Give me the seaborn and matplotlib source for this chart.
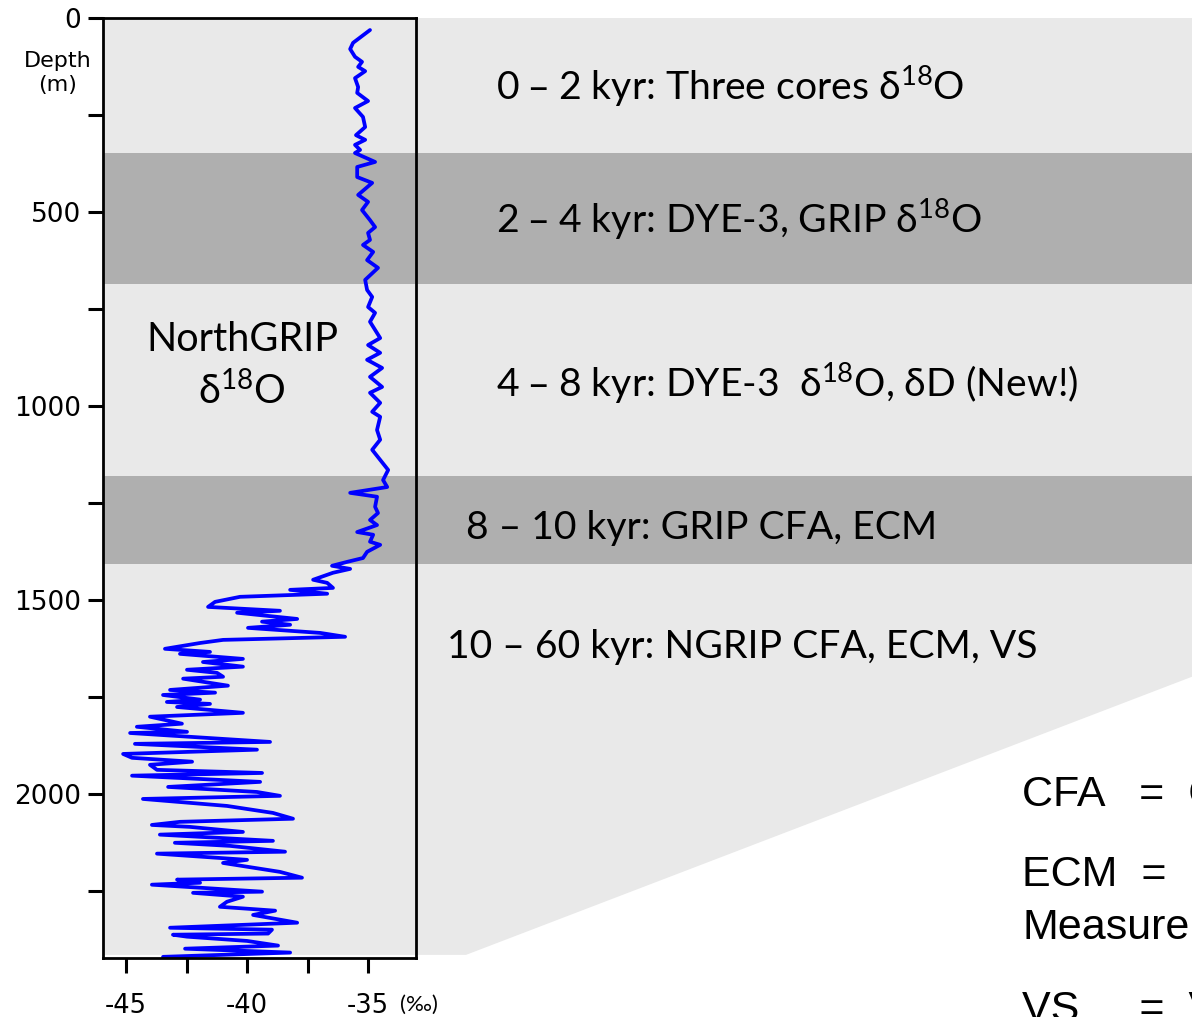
import matplotlib
matplotlib.use("Agg")
import matplotlib.pyplot as plt
import matplotlib.transforms as mtransforms
from matplotlib.patches import Polygon, Rectangle
import seaborn as sns
import pandas as pd

# ---------------- data ----------------
depth_m = [31, 64, 80, 100, 113, 126, 137, 155, 178, 193, 214, 232, 255, 281, 302, 314, 327, 340, 348,
           371, 384, 410, 425, 456, 474, 495, 521, 539, 554, 572, 585, 603, 624, 644,
           675, 701, 719, 745, 760, 783, 825, 843, 863, 881, 902, 925, 951, 966, 992, 1015, 1028,
           1062, 1087, 1113, 1139, 1165, 1191, 1209, 1224, 1234, 1260, 1276, 1294, 1307, 1325,
           1332, 1350, 1358, 1376, 1392, 1402, 1412, 1420, 1430, 1448, 1456, 1469, 1474, 1484,
           1492, 1505, 1518, 1528, 1533, 1549, 1556, 1564, 1572, 1585, 1595, 1603, 1611, 1626,
           1634, 1639, 1652, 1660, 1672, 1680, 1688, 1698, 1703, 1721, 1732, 1739, 1745, 1757,
           1763, 1768, 1776, 1791, 1801, 1819, 1827, 1840, 1843, 1866, 1871, 1886, 1894, 1897,
           1907, 1917, 1925, 1938, 1946, 1953, 1969, 1982, 1995, 2005, 2013, 2031, 2049, 2064,
           2072, 2080, 2085, 2098, 2105, 2121, 2126, 2134, 2149, 2154, 2170, 2178, 2201, 2216,
           2221, 2229, 2234, 2252, 2255, 2265, 2278, 2291, 2301, 2312, 2332, 2345, 2350, 2360,
           2363, 2368, 2379, 2391, 2399, 2409, 2420]
d18o = [-34.92, -35.62, -35.74, -35.54, -35.25, -35.41, -35.12, -35.54, -35.41, -35.45, -35.00, -35.54,
        -35.21, -35.12, -35.50, -35.12, -35.54, -35.33, -35.54,
        -34.71, -35.45, -35.45, -34.83, -35.41, -35.00, -35.25, -34.92, -34.71, -35.00, -34.92, -35.21,
        -34.79, -35.04, -34.59,
        -35.12, -35.04, -34.83, -35.00, -34.71, -34.92, -34.50, -35.00, -34.50, -35.04, -34.42, -34.92,
        -34.42, -34.92, -34.50, -34.83, -34.50,
        -34.63, -34.50, -34.83, -34.50, -34.17, -34.38, -34.21, -35.74, -34.63, -34.71, -34.59, -34.92,
        -34.63, -35.45,
        -34.79, -34.92, -34.50, -35.04, -35.21, -35.87, -36.49, -35.74, -36.45, -37.27, -36.69, -36.45,
        -38.22, -36.69,
        -40.29, -41.32, -41.61, -38.64, -40.41, -37.93, -39.38, -38.22, -39.96, -36.98, -35.95, -40.99,
        -41.94, -43.39,
        -41.53, -42.77, -40.17, -41.82, -40.17, -42.48, -41.24, -40.99, -42.64, -40.79, -43.18, -41.32,
        -43.47, -41.94,
        -43.31, -41.53, -42.89, -40.17, -44.01, -42.69, -44.55, -42.48, -44.83, -39.05, -44.63, -39.59,
        -43.60, -45.12,
        -44.75, -42.27, -44.01, -43.72, -39.38, -44.75, -39.46, -43.26, -39.59, -38.64, -44.30, -40.83,
        -38.93, -38.10,
        -42.77, -43.93, -42.36, -40.17, -43.60, -38.93, -42.98, -40.70, -38.43, -43.72, -40.00, -40.99,
        -38.64, -37.73,
        -42.89, -41.94, -43.93, -39.38, -42.23, -40.17, -40.83, -41.12, -38.84, -39.75, -37.93, -43.18,
        -38.97, -39.13,
        -43.06, -42.48, -40.00, -38.72, -42.56, -38.22, -43.47]

band_labels = ["0 \u2013 2 kyr: Three cores \u03b4$^{18}$O",
               "2 \u2013 4 kyr: DYE-3, GRIP \u03b4$^{18}$O",
               "4 \u2013 8 kyr: DYE-3  \u03b4$^{18}$O, \u03b4D (New!)",
               "8 \u2013 10 kyr: GRIP CFA, ECM",
               "10 \u2013 60 kyr: NGRIP CFA, ECM, VS"]
dark_bands = [(348, 686), (1180, 1407)]
shade_bottom = 2415
y_major = [0, 500, 1000, 1500, 2000]
y_minor = [250, 750, 1250, 1750, 2250]
x_major = [-45, -40, -35]
x_minor = [-42.5, -37.5]
defs = ["CFA   =  Continuous Flow Analysis",
        "ECM  =   Electrical Conductivity",
        "Measurement",
        "VS     =  Visual Stratigraphy"]

# ---------------- style ----------------
sns.set_theme(style="white")
plt.rcParams["font.family"] = ["DejaVu Sans"]
plt.rcParams["mathtext.default"] = "regular"
plt.rcParams["axes.unicode_minus"] = False
plt.rcParams["text.color"] = "black"
plt.rcParams["xtick.color"] = "black"
plt.rcParams["ytick.color"] = "black"
plt.rcParams["xtick.labelcolor"] = "black"
plt.rcParams["ytick.labelcolor"] = "black"

W, H = 1192, 1017
fig = plt.figure(figsize=(W / 100, H / 100), dpi=100)
fig.patch.set_facecolor("white")
ax = fig.add_axes([103 / W, 1 - 958 / H, 313 / W, 940 / H])
ax.set_facecolor("white")
ax.set_xlim(-45.95, -33.02)
ax.set_ylim(2423, 0)

light = "#e9e9e9"
dark = "#afafaf"
trans = mtransforms.blended_transform_factory(ax.transAxes, ax.transData)
xr = (W - 103) / 313
poly = Polygon([(0, 0), (xr, 0), (xr, 1698), ((466 - 103) / 313, shade_bottom), (0, shade_bottom)],
               closed=True, facecolor=light, edgecolor="none", transform=trans,
               clip_on=False, zorder=0)
ax.add_patch(poly)
for top, bot in dark_bands:
    ax.add_patch(Rectangle((0, top), xr, bot - top, facecolor=dark, edgecolor="none",
                           transform=trans, clip_on=False, zorder=0.5))

df = pd.DataFrame({"depth": depth_m, "d18o": d18o})
sns.lineplot(data=df, x="d18o", y="depth", sort=False, estimator=None, color="#0000ff",
             lw=2.7, ax=ax, zorder=3)
ax.set_xlabel("")
ax.set_ylabel("")

ax.set_yticks(y_major)
ax.set_yticks(y_minor, minor=True)
ax.set_xticks(x_major)
ax.set_xticks(x_minor, minor=True)
ax.tick_params(which="both", length=11, width=2.2, color="black", direction="out",
               left=True, bottom=True)
ax.tick_params(axis="y", which="major", labelsize=19, pad=5, labelcolor="black")
ax.tick_params(axis="x", which="major", labelsize=18.5, pad=14, labelcolor="black")
for s in ax.spines.values():
    s.set_color("black")
    s.set_linewidth(2)
    s.set_zorder(4)

# ---------------- text ----------------
fig.text(58 / W, 1 - 73 / H, "Depth\n(m)", ha="center", va="center", fontsize=16, linespacing=1.3)
fig.text(400 / W, 1 - 1005 / H, "(\u2030)", ha="left", va="center", fontsize=16,
         family=["Lato", "DejaVu Sans"])

calib = ["Lato", "DejaVu Sans"]
fig.text(242 / W, 1 - 366 / H, "NorthGRIP\n\u03b4$^{18}$O", ha="center", va="center",
         fontsize=28.5, family=calib, linespacing=1.38)
band_pos = [(496, 86), (496, 219), (496, 383), (466, 528), (447, 647)]
for (px, py), lab in zip(band_pos, band_labels):
    fig.text(px / W, 1 - py / H, lab, ha="left", va="center", fontsize=28.2, family=calib)

def_pos = [(1022, 795), (1022, 875), (1022, 928), (1022, 1010)]
for (px, py), lab in zip(def_pos, defs):
    fig.text(px / W, 1 - py / H, lab, ha="left", va="center", fontsize=31,
             family=["Liberation Sans", "DejaVu Sans"])

fig.savefig("out.png", dpi=100)
